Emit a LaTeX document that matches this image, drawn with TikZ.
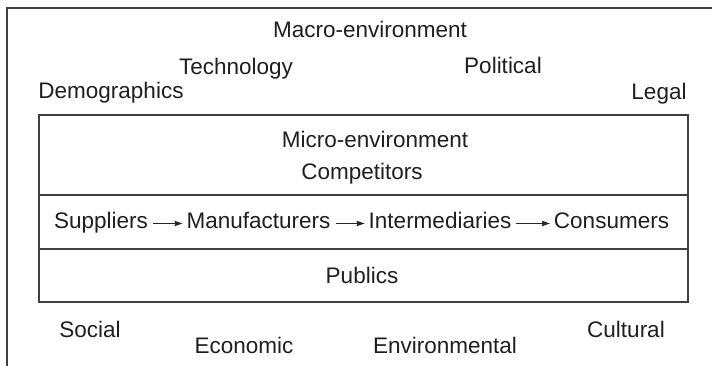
\documentclass[tikz,border=0pt]{standalone}
\usepackage{fontspec}
\setmainfont{Liberation Sans}
\usetikzlibrary{arrows.meta}
\begin{document}
\begin{tikzpicture}[x=1pt,y=-1pt,
  lbl/.style={inner sep=0pt, font=\fontsize{22.5}{26}\selectfont, text=black!88, anchor=base, text height=16pt, text depth=5pt},
  frame/.style={draw=black!75, line width=1.2pt},
  arr/.style={-{Stealth[length=8pt,width=5.5pt,inset=1pt]}, line width=1pt, draw=black!85, shorten <=5pt, shorten >=4pt}]
\useasboundingbox (0,0) rectangle (712,366);
% outer (macro) frame, cut by the page on right and bottom
\draw[frame] (7,372) -- (7,8) -- (720,8);
% inner (micro) box
\draw[frame] (39,115) rectangle (688,302);
\draw[frame] (39,195) -- (688,195);
\draw[frame] (39,249) -- (688,249);
% macro labels
\node[lbl] (macro) at (370,38) {Macro-environment};
\node[lbl] (tech) at (236,75) {Technology};
\node[lbl] (pol) at (503,74) {Political};
\node[lbl] (demo) at (111,99) {Demographics};
\node[lbl] (legal) at (659,100) {Legal};
% micro labels
\node[lbl] (micro) at (375,148) {Micro-environment};
\node[lbl] (comp) at (362,180) {Competitors};
\node[lbl] (supp) at (101,229) {Suppliers};
\node[lbl] (manu) at (258.5,229) {Manufacturers};
\node[lbl] (inter) at (440,229) {Intermediaries};
\node[lbl] (cons) at (611.5,229) {Consumers};
\node[lbl] (pub) at (362,283) {Publics};
% bottom macro labels
\node[lbl] (soc) at (90,337) {Social};
\node[lbl] (eco) at (244,353) {Economic};
\node[lbl] (env) at (445,353) {Environmental};
\node[lbl] (cult) at (626,337) {Cultural};
% chain arrows
\draw[arr] (supp) -- (manu);
\draw[arr] (manu) -- (inter);
\draw[arr] (inter) -- (cons);
\end{tikzpicture}
\end{document}
